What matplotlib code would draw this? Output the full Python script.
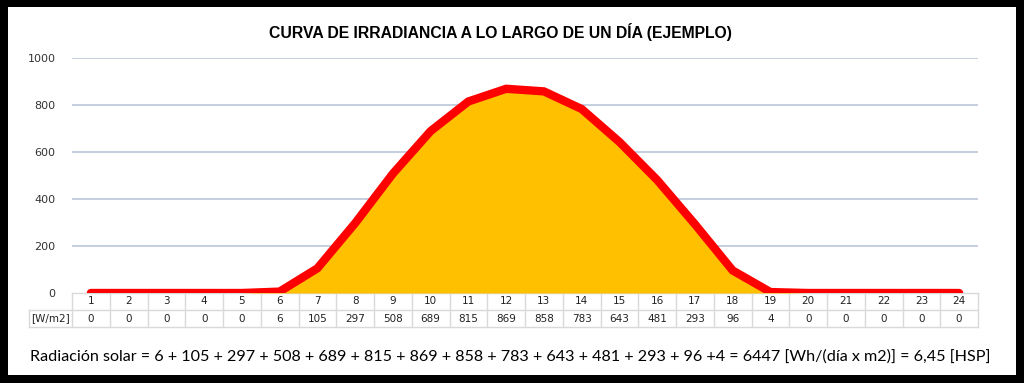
import matplotlib
matplotlib.use("Agg")
import matplotlib.pyplot as plt
from matplotlib.patches import Rectangle
import matplotlib.transforms as mtransforms

hours = list(range(1, 25))
irradiance = [0, 0, 0, 0, 0, 6, 105, 297, 508, 689, 815, 869, 858, 783, 643, 481, 293, 96, 4, 0, 0, 0, 0, 0]
yticks = [0, 200, 400, 600, 800, 1000]
title = "CURVA DE IRRADIANCIA A LO LARGO DE UN DÍA (EJEMPLO)"
unit_label = "[W/m2]"
footer = ("Radiación solar = 6 + 105 + 297 + 508 + 689 + 815 + 869 + 858 + 783 + 643 + 481 "
          "+ 293 + 96 +4 = 6447 [Wh/(día x m2)] = 6,45 [HSP]")

W, H = 1024, 383
fig = plt.figure(figsize=(W / 100, H / 100), dpi=100, facecolor="black")

# white inner panel
fig.patches.append(Rectangle((8 / W, 1 - 375 / H), (1016 - 8) / W, (375 - 7) / H,
                             transform=fig.transFigure, facecolor="white",
                             edgecolor="none", zorder=-10))

left, right = 72 / W, 978 / W
bottom, top = 1 - 293 / H, 1 - 58 / H
ax = fig.add_axes([left, bottom, right - left, top - bottom])
ax.set_facecolor("white")
ax.set_xlim(0.5, 24.5)
ax.set_ylim(0, 1000)

for t in yticks[1:]:
    ax.axhline(t, color="#BFCADB", lw=1.3, zorder=1)

ax.fill_between(hours, 0, irradiance, color="#FFC000", zorder=2, lw=0)
ax.plot(hours, irradiance, color="#FF0000", lw=6, zorder=3, solid_capstyle="round",
        solid_joinstyle="miter")

ax.set_yticks(yticks)
ax.set_yticklabels([str(t) for t in yticks], fontsize=8, color="#333333",
                   family="DejaVu Sans")
ax.tick_params(axis="y", length=0, pad=12)
ax.set_xticks([])
for s in ax.spines.values():
    s.set_visible(False)

# table below the chart
trans = mtransforms.blended_transform_factory(ax.transData, ax.transAxes)
axh = 293 - 58
r1 = -17 / axh
r2 = -34 / axh
gcol = "#D9D9D9"
x0 = 0.5 - 43 / (906 / 24)
lines = [
    ((0.5, 24.5), (0, 0)),
    ((x0, 24.5), (r1, r1)),
    ((x0, 24.5), (r2, r2)),
    ((x0, x0), (r1, r2)),
]
for i in range(25):
    lines.append(((0.5 + i, 0.5 + i), (0, r2)))
for xs, ys in lines:
    ax.plot(xs, ys, color=gcol, lw=1, transform=trans, clip_on=False, zorder=1)

for h, v in zip(hours, irradiance):
    ax.text(h, r1 / 2, str(h), transform=trans, ha="center", va="center",
            fontsize=7.5, color="#222222")
    ax.text(h, (r1 + r2) / 2, str(v), transform=trans, ha="center", va="center",
            fontsize=7.5, color="#222222")
ax.text((x0 + 0.5) / 2, (r1 + r2) / 2, unit_label, transform=trans, ha="center",
        va="center", fontsize=7.5, color="#222222")

fig.text(500 / W, 1 - 32 / H, title, ha="center", va="center", fontsize=11.3,
         fontweight="bold", family="Liberation Sans", color="black")
fig.text(510 / W, 1 - 357 / H, footer, ha="center", va="center", fontsize=11.6,
         family="Lato", color="black")

fig.savefig("out.png", dpi=100, facecolor="black")
